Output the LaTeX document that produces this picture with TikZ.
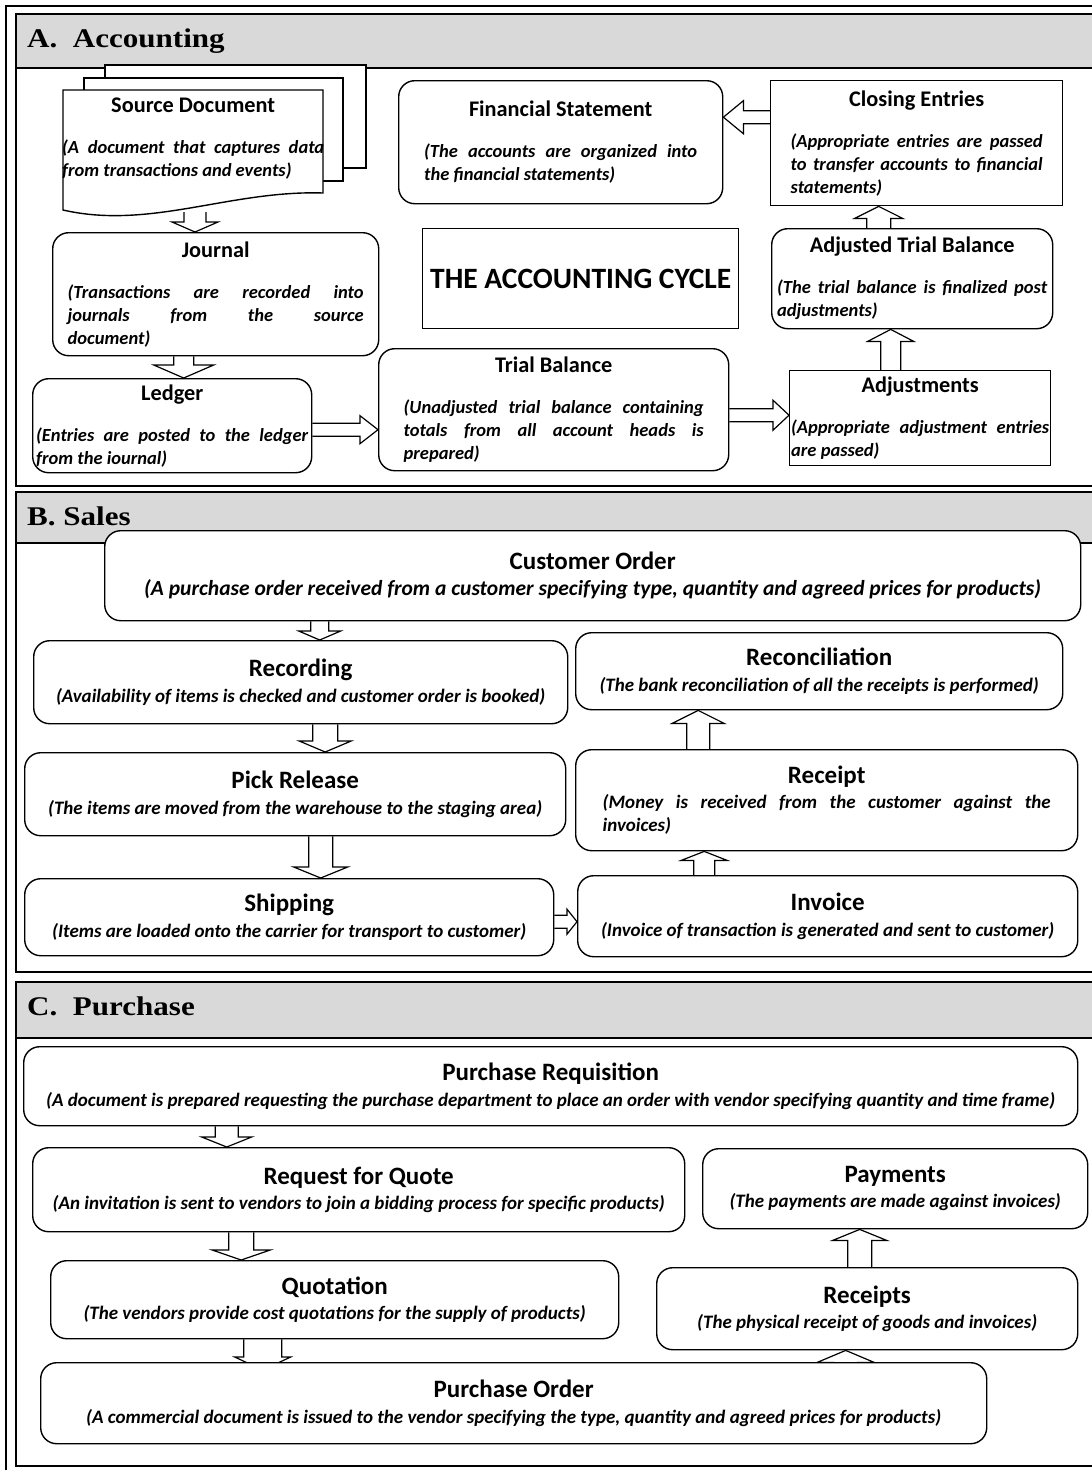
\documentclass[tikz,border=0pt]{standalone}
\usepackage{fontspec}
\setmainfont{Carlito}
\newfontfamily\headfont[FakeStretch=1.15]{Liberation Serif}
\usetikzlibrary{calc}
\definecolor{bandgray}{HTML}{D9D9D9}
\setlength{\parindent}{0pt}

\pgfdeclarelayer{back}
\pgfdeclarelayer{arrowlayer}
\pgfsetlayers{back,arrowlayer,main}

\tikzset{
  box/.style={draw, line width=1.4pt, fill=white, rounded corners=16pt, anchor=north west, inner sep=0pt, align=justify},
  sqbox/.style={box, sharp corners},
  docline/.style={draw, line width=1.4pt, fill=white},
  blockarrow/.style={draw, line width=1.2pt, fill=white, line join=miter},
  secframe/.style={line width=2.8pt},
  sechead/.style={anchor=base west, inner sep=0pt, font=\headfont\fontsize{27}{30}\selectfont\bfseries},
}

% titles and descriptions inside the boxes
\newcommand{\atitle}[1]{{\centering\fontsize{22.3}{26}\selectfont\bfseries #1\par}\vspace{18pt}}
\newcommand{\adesc}[1]{{\fontsize{18.5}{23}\selectfont\bfseries\itshape #1\par}}
\newcommand{\btitle}[1]{{\centering\fontsize{25}{29}\selectfont\bfseries #1\par}\vspace{2.5pt}}
\newcommand{\bdesc}[2][19]{{\centering\fontsize{#1}{23}\selectfont\bfseries\itshape #2\par}}
\newcommand{\jdesc}[1]{{\fontsize{19}{23}\selectfont\bfseries\itshape #1\par}}
\newcommand{\jl}[1]{\makebox[\linewidth][s]{#1}\par}

% hollow block arrow: from, to, half shaft, half head, head length
\newcommand{\hollowarrow}[5]{%
  \coordinate (ha-s) at #1;
  \coordinate (ha-e) at #2;
  \coordinate (ha-h) at ($(ha-e)!#5!(ha-s)$);
  \draw[blockarrow] ($(ha-s)!#3!90:(ha-e)$) -- ($(ha-h)!#3!-90:(ha-s)$) -- ($(ha-h)!#4!-90:(ha-s)$)
    -- (ha-e) -- ($(ha-h)!#4!90:(ha-s)$) -- ($(ha-h)!#3!90:(ha-s)$) -- ($(ha-s)!#3!-90:(ha-e)$);
}

\begin{document}
\begin{tikzpicture}[x=1pt, y=-1pt]
    \useasboundingbox (0,0) rectangle (1092,1470);

    \begin{pgfonlayer}{back}
    \foreach \ya/\yb in {14/68, 492/543, 982/1038}{
        \fill[bandgray] (16,\ya) rectangle (1100,\yb);
        \draw[line width=2pt] (16,\yb) -- (1100,\yb);
    }
    \foreach \ya/\yb in {14/486, 492/972, 982/1466}
        \draw[secframe] (1100,\ya) -- (16,\ya) -- (16,\yb) -- (1100,\yb);
    \draw[secframe] (1100,6) -- (6,6) -- (6,1480);

    \node[sechead] (headA) at (27,47) {A.\ \ Accounting};
    \node[sechead] (headB) at (27,525) {B. Sales};
    \node[sechead] (headC) at (27,1015) {C.\ \ Purchase};
    \end{pgfonlayer}

    % A. Accounting
    \draw[docline] (105,65) rectangle (366,168);
    \draw[docline] (84,78) rectangle (343,181);
    \draw[docline] (63,210) -- (63,90) -- (323,90) -- (323,193) .. controls (230,190) and (150,230) .. (63,210) -- cycle;
    \node[anchor=north west, minimum width=262pt, minimum height=100pt, text width=262pt, inner sep=0pt, align=justify] (src) at (62,88)
        {\atitle{Source Document}\adesc{\jl{(A document that captures data}from transactions and events)}};
    \coordinate (srcbot) at (195,212);

    \node[box, minimum width=326pt, minimum height=123pt, text width=296pt] (journal) at (52,232)
        {\atitle{Journal}\adesc{\jl{(Transactions are recorded into}\jl{journals from the source}document)}};
    \node[box, minimum width=279pt, minimum height=94pt, text width=272pt] (ledger) at (32,378)
        {\atitle{Ledger}\adesc{\jl{(Entries are posted to the ledger}from the iournal)}};
    \node[box, minimum width=324pt, minimum height=123pt, text width=273pt] (fin) at (398,80)
        {\atitle{Financial Statement}\adesc{\jl{(The accounts are organized into}the financial statements)}};
    \node[sqbox, minimum width=292pt, minimum height=125pt, text width=252pt] (closing) at (770,80)
        {\atitle{Closing Entries}\adesc{\jl{(Appropriate entries are passed}\jl{to transfer accounts to financial}statements)}};
    \node[sqbox, minimum width=316pt, minimum height=100pt, align=center] (cycle) at (422,228)
        {\fontsize{29.5}{34}\selectfont\bfseries THE ACCOUNTING CYCLE};
    \node[box, minimum width=281pt, minimum height=100pt, text width=270pt] (atb) at (771,228)
        {\atitle{Adjusted Trial Balance}\adesc{\jl{(The trial balance is finalized post}adjustments)}};
    \node[box, minimum width=350pt, minimum height=122pt, text width=300pt] (tb) at (378,348)
        {\atitle{Trial Balance}\adesc{\jl{(Unadjusted trial balance containing}\jl{totals from all account heads is}prepared)}};
    \node[sqbox, minimum width=261pt, minimum height=95pt, text width=258pt] (adj) at (789,370)
        {\atitle{Adjustments}\adesc{\jl{(Appropriate adjustment entries}are passed)}};

    % B. Sales
    \node[box, minimum width=976pt, minimum height=90pt, text width=960pt] (co) at (104,530)
        {\btitle{Customer Order}\bdesc[21.5]{(A purchase order received from a customer specifying type, quantity and agreed prices for products)}};
    \node[box, minimum width=534pt, minimum height=83pt, text width=520pt] (rec) at (33,640)
        {\btitle{Recording}\bdesc{(Availability of items is checked and customer order is booked)}};
    \node[box, minimum width=541pt, minimum height=83pt, text width=530pt] (pick) at (24,752)
        {\btitle{Pick Release}\bdesc{(The items are moved from the warehouse to the staging area)}};
    \node[box, minimum width=529pt, minimum height=77pt, text width=520pt] (ship) at (24,878)
        {\btitle{Shipping}\bdesc{(Items are loaded onto the carrier for transport to customer)}};
    \node[box, minimum width=487pt, minimum height=77pt, text width=475pt] (recon) at (575,632)
        {\btitle{Reconciliation}\bdesc{(The bank reconciliation of all the receipts is performed)}};
    \node[box, minimum width=502pt, minimum height=101pt, text width=448pt] (receipt) at (575,749)
        {\btitle{Receipt}\jdesc{\jl{(Money is received from the customer against the}invoices)}};
    \node[box, minimum width=500pt, minimum height=81pt, text width=490pt] (inv) at (577,875)
        {\btitle{Invoice}\bdesc{(Invoice of transaction is generated and sent to customer)}};

    % C. Purchase
    \node[box, minimum width=1054pt, minimum height=79pt, text width=1040pt] (pr) at (23,1046)
        {\btitle{Purchase Requisition}\bdesc{(A document is prepared requesting the purchase department to place an order with vendor specifying quantity and time frame)}};
    \node[box, minimum width=652pt, minimum height=84pt, text width=640pt] (rfq) at (32,1147)
        {\btitle{Request for Quote}\bdesc{(An invitation is sent to vendors to join a bidding process for specific products)}};
    \node[box, minimum width=568pt, minimum height=78pt, text width=560pt] (quot) at (50,1260)
        {\btitle{Quotation}\bdesc{(The vendors provide cost quotations for the supply of products)}};
    \node[box, minimum width=946pt, minimum height=81pt, text width=930pt] (po) at (40,1362)
        {\btitle{Purchase Order}\bdesc{(A commercial document is issued to the vendor specifying the type, quantity and agreed prices for products)}};
    \node[box, minimum width=385pt, minimum height=80pt, text width=375pt] (pay) at (702,1148)
        {\btitle{Payments}\bdesc{(The payments are made against invoices)}};
    \node[box, minimum width=421pt, minimum height=82pt, text width=410pt] (rcpts) at (656,1267)
        {\btitle{Receipts}\bdesc{(The physical receipt of goods and invoices)}};

    \begin{pgfonlayer}{arrowlayer}
    % A
    \hollowarrow{(srcbot)}{(srcbot |- journal.north)}{11pt}{23pt}{10pt}
    \hollowarrow{($(ledger.north |- journal.south)+(11.5,0)$)}{($(ledger.north)+(11.5,0)$)}{10pt}{30pt}{13pt}
    \hollowarrow{($(ledger.east)+(0,4)$)}{($(ledger.east -| tb.west)+(0,4)$)}{6.5pt}{14pt}{18pt}
    \hollowarrow{($(tb.east)+(0,5.5)$)}{($(tb.east -| adj.west)+(0,5.5)$)}{6.5pt}{15pt}{16pt}
    \hollowarrow{($(adj.north)+(-29.5,0)$)}{($(adj.north |- atb.south)+(-29.5,0)$)}{10pt}{23pt}{12pt}
    \hollowarrow{($(atb.north)+(-33.5,0)$)}{($(atb.north |- closing.south)+(-33.5,0)$)}{12pt}{24pt}{12pt}
    \hollowarrow{($(closing.west)+(0,-26)$)}{($(closing.west -| fin.east)+(0,-26)$)}{6.5pt}{16.5pt}{20pt}
    % B
    \hollowarrow{($(rec.north |- co.south)+(19,0)$)}{($(rec.north)+(19,0)$)}{9pt}{21pt}{9pt}
    \hollowarrow{($(pick.north |- rec.south)+(30,0)$)}{($(pick.north)+(30,0)$)}{12.5pt}{26pt}{11pt}
    \hollowarrow{($(ship.north |- pick.south)+(31.5,0)$)}{($(ship.north)+(31.5,0)$)}{12pt}{27pt}{11pt}
    \hollowarrow{($(ship.east)+(0,4.5)$)}{($(ship.east -| inv.west)+(0,4.5)$)}{6.5pt}{12.5pt}{10pt}
    \hollowarrow{($(inv.north)+(-123.5,0)$)}{($(inv.north |- receipt.south)+(-123.5,0)$)}{10.5pt}{23pt}{9pt}
    \hollowarrow{($(receipt.north)+(-128.5,0)$)}{($(receipt.north |- recon.south)+(-128.5,0)$)}{11.5pt}{26pt}{13pt}
    % C
    \hollowarrow{($(rfq.north |- pr.south)+(-132,0)$)}{($(rfq.north)+(-132,0)$)}{11.5pt}{25pt}{10pt}
    \hollowarrow{($(quot.north |- rfq.south)+(-93.5,0)$)}{($(quot.north)+(-93.5,0)$)}{12.5pt}{29pt}{10pt}
    \hollowarrow{($(po.north |- quot.south)+(-251,0)$)}{($(po.north)+(-251,8)$)}{19pt}{28pt}{13pt}
    \hollowarrow{($(po.north -| rcpts.south)+(-21.5,14)$)}{($(rcpts.south)+(-21.5,0)$)}{12pt}{28.5pt}{12pt}
    \hollowarrow{($(rcpts.north)+(-7.5,0)$)}{($(rcpts.north |- pay.south)+(-7.5,0)$)}{12pt}{27pt}{11pt}
    \end{pgfonlayer}

\end{tikzpicture}
\end{document}
